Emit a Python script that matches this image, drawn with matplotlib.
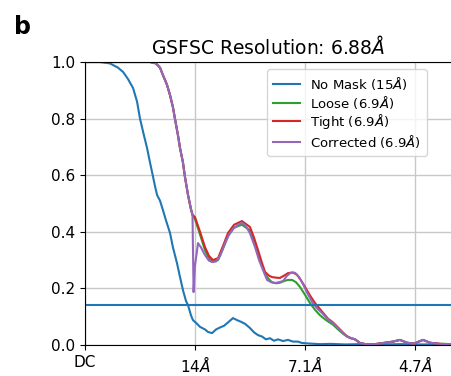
import matplotlib
matplotlib.use("Agg")
import matplotlib.pyplot as plt

# spatial frequency (1/Å) and FSC values
blue_x = [0.0, 0.0097, 0.0162, 0.0214, 0.0247, 0.0279, 0.0312, 0.0338, 0.0357, 0.0383,
          0.0403, 0.0422, 0.0442, 0.0455, 0.0468, 0.0487, 0.0506, 0.0526, 0.0552, 0.0571,
          0.0597, 0.0617, 0.0636, 0.0656, 0.0669, 0.0688, 0.0701, 0.0727, 0.0747, 0.0779,
          0.0799, 0.0825, 0.0851, 0.0877, 0.0903, 0.0929, 0.0961, 0.0987, 0.1013, 0.1039,
          0.1071, 0.1097, 0.1123, 0.1149, 0.1175, 0.1201, 0.1227, 0.1253, 0.1286, 0.1318,
          0.1351, 0.1383, 0.1409, 0.1461, 0.1526, 0.1591, 0.1688, 0.1786, 0.1916, 0.2045,
          0.2175, 0.2305, 0.2383]
blue_y = [1.0, 1.0, 0.995, 0.98, 0.965, 0.94, 0.908, 0.86, 0.80, 0.74,
          0.696, 0.645, 0.594, 0.56, 0.53, 0.51, 0.477, 0.44, 0.396, 0.345,
          0.29, 0.24, 0.194, 0.155, 0.141, 0.105, 0.088, 0.075, 0.064, 0.055,
          0.046, 0.042, 0.055, 0.062, 0.068, 0.08, 0.095, 0.088, 0.082, 0.075,
          0.06, 0.045, 0.035, 0.03, 0.02, 0.024, 0.015, 0.02, 0.014, 0.018,
          0.012, 0.012, 0.007, 0.005, 0.003, 0.004, 0.002, 0.003, 0.002, 0.003,
          0.002, 0.002, 0.002]

head_x = [0.0, 0.0422, 0.0461, 0.0487, 0.0506, 0.0532, 0.0552, 0.0571, 0.0584, 0.0604,
          0.0617, 0.0636, 0.0649, 0.0669, 0.0688, 0.0698]
head_y = [1.0, 1.0, 0.995, 0.98, 0.954, 0.92, 0.883, 0.84, 0.80, 0.74,
          0.696, 0.645, 0.594, 0.53, 0.48, 0.46]

tail_x = [0.1727, 0.1753, 0.1786, 0.1831, 0.1883, 0.1948, 0.2000, 0.2045, 0.2091, 0.2136,
          0.2195, 0.2240, 0.2305, 0.2383]
tail_y = [0.024, 0.02, 0.007, 0.002, 0.003, 0.008, 0.012, 0.018, 0.008, 0.005,
          0.018, 0.008, 0.004, 0.003]

corr_mid_x = [0.0705, 0.0714, 0.0734, 0.0753, 0.0779, 0.0805, 0.0825, 0.0851, 0.0877, 0.0909,
              0.0935, 0.0961, 0.0994, 0.1019, 0.1045, 0.1071, 0.1104, 0.1130, 0.1156, 0.1182,
              0.1208, 0.1234, 0.1260, 0.1286, 0.1312, 0.1338, 0.1364, 0.1390, 0.1416, 0.1442,
              0.1474, 0.1506, 0.1539, 0.1578, 0.1610, 0.1643, 0.1675, 0.1701]
corr_mid_y = [0.187, 0.28, 0.36, 0.345, 0.318, 0.298, 0.293, 0.295, 0.315, 0.36,
              0.39, 0.41, 0.425, 0.432, 0.42, 0.395, 0.346, 0.30, 0.265, 0.23,
              0.222, 0.219, 0.222, 0.226, 0.245, 0.256, 0.255, 0.24, 0.215, 0.185,
              0.152, 0.13, 0.113, 0.09, 0.078, 0.06, 0.042, 0.03]

tight_mid_x = [0.0714, 0.0747, 0.0779, 0.0805, 0.0831, 0.0864, 0.0896, 0.0929, 0.0968, 0.1019,
               0.1071, 0.1097, 0.1123, 0.1149, 0.1169, 0.1195, 0.1214, 0.1240, 0.1266, 0.1292,
               0.1318, 0.1351, 0.1377, 0.1403, 0.1429, 0.1461, 0.1494, 0.1539, 0.1578, 0.1610,
               0.1643, 0.1675, 0.1701]
tight_mid_y = [0.452, 0.40, 0.346, 0.315, 0.30, 0.307, 0.35, 0.396, 0.425, 0.438,
               0.417, 0.38, 0.336, 0.29, 0.258, 0.245, 0.24, 0.238, 0.237, 0.245,
               0.254, 0.256, 0.248, 0.228, 0.205, 0.175, 0.148, 0.118, 0.093, 0.08,
               0.062, 0.044, 0.031]

loose_mid_x = [0.0714, 0.0747, 0.0779, 0.0805, 0.0831, 0.0864, 0.0896, 0.0929, 0.0968, 0.1019,
               0.1071, 0.1097, 0.1123, 0.1149, 0.1169, 0.1195, 0.1214, 0.1240, 0.1266, 0.1292,
               0.1318, 0.1344, 0.1370, 0.1396, 0.1429, 0.1461, 0.1494, 0.1526, 0.1565, 0.1610,
               0.1643, 0.1675, 0.1701]
loose_mid_y = [0.445, 0.39, 0.335, 0.305, 0.295, 0.30, 0.34, 0.385, 0.415, 0.425,
               0.405, 0.37, 0.325, 0.28, 0.25, 0.232, 0.222, 0.218, 0.22, 0.226,
               0.23, 0.23, 0.222, 0.205, 0.177, 0.148, 0.124, 0.105, 0.088, 0.072,
               0.055, 0.04, 0.03]

threshold = 0.143
tick_pos = [0.0, 1 / 14, 2 / 14, 3 / 14]
tick_labels = ["DC", r"14$\AA$", r"7.1$\AA$", r"4.7$\AA$"]
labels = [r"No Mask (15$\AA$)", r"Loose (6.9$\AA$)", r"Tight (6.9$\AA$)", r"Corrected (6.9$\AA$)"]
colors = ["#1f77b4", "#2ca02c", "#d62728", "#9467bd"]

fig = plt.figure(figsize=(4.51, 3.76), dpi=100)
ax = fig.add_axes([85 / 451, 31 / 376, 367 / 451, 283 / 376])

lw = 1.5
ax.plot(blue_x, blue_y, color=colors[0], lw=lw, label=labels[0])
ax.plot(head_x + loose_mid_x + tail_x, head_y + loose_mid_y + tail_y, color=colors[1], lw=lw, label=labels[1])
ax.plot(head_x + tight_mid_x + tail_x, head_y + tight_mid_y + tail_y, color=colors[2], lw=lw, label=labels[2])
ax.plot(head_x + corr_mid_x + tail_x, head_y + corr_mid_y + tail_y, color=colors[3], lw=lw, label=labels[3])
ax.axhline(threshold, color=colors[0], lw=lw)

ax.set_xlim(0, 0.2383)
ax.set_ylim(0, 1.0)
ax.set_xticks(tick_pos)
ax.set_xticklabels(tick_labels, fontsize=11)
ax.set_yticks([0.0, 0.2, 0.4, 0.6, 0.8, 1.0])
ax.set_yticklabels(["0.0", "0.2", "0.4", "0.6", "0.8", "1.0"], fontsize=11)
ax.grid(True, color="#c8c8c8", lw=1)
ax.set_axisbelow(True)
ax.set_title(r"GSFSC Resolution: 6.88$\AA$", fontsize=13.5, pad=6)

leg = ax.legend(loc="upper right", bbox_to_anchor=(427 / 451, 1 - 69 / 376),
                bbox_transform=fig.transFigure, borderaxespad=0, fontsize=9.5,
                labelspacing=0.12, borderpad=0.45)

fig.text(14 / 451, 1 - 34 / 376, "b", fontsize=17, fontweight="bold")

fig.savefig("out.png", dpi=100)
